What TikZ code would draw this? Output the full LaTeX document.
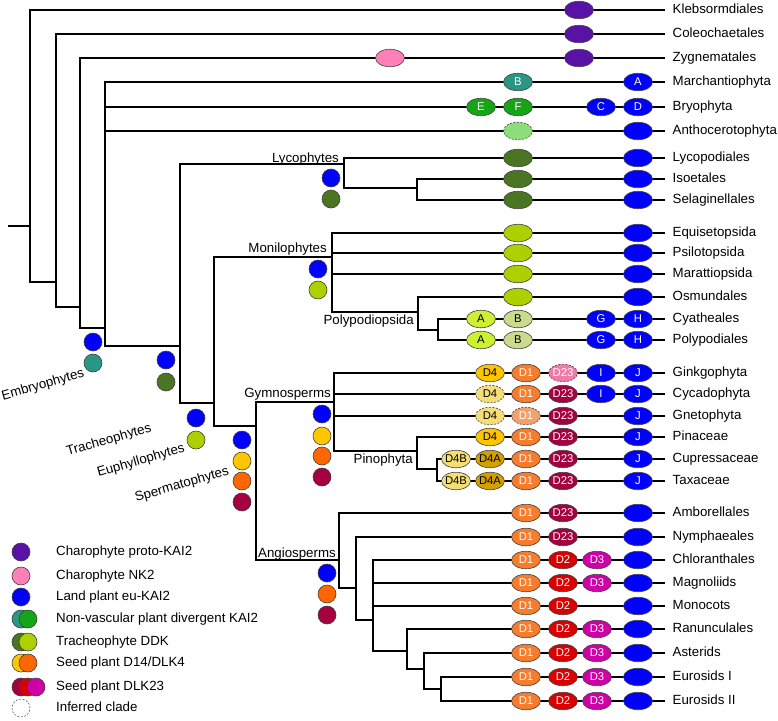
\documentclass[tikz,border=0pt]{standalone}
\usepackage{fontspec}
\setmainfont{Liberation Sans}
\usetikzlibrary{shapes.geometric}
\definecolor{proto}{RGB}{88,18,165}
\definecolor{nkpink}{RGB}{255,128,182}
\definecolor{ekai}{RGB}{0,0,255}
\definecolor{nvteal}{RGB}{42,150,132}
\definecolor{nvgreen}{RGB}{22,165,22}
\definecolor{ddkdark}{RGB}{74,118,36}
\definecolor{ddklite}{RGB}{172,208,0}
\definecolor{dgold}{RGB}{255,198,0}
\definecolor{dorange}{RGB}{255,102,0}
\definecolor{done}{RGB}{248,124,44}
\definecolor{dcrim}{RGB}{165,0,64}
\definecolor{dred}{RGB}{218,0,0}
\definecolor{dmag}{RGB}{208,0,168}
\definecolor{litA}{RGB}{205,240,50}
\definecolor{paleB}{RGB}{200,220,140}
\definecolor{antho}{RGB}{140,222,122}
\definecolor{paleD}{RGB}{245,222,118}
\definecolor{dfourA}{RGB}{212,160,0}
\definecolor{pinkD}{RGB}{242,122,170}
\definecolor{paleO}{RGB}{242,160,108}
\tikzset{br/.style={line width=1.4pt},
 lf/.style={anchor=west,inner xsep=7.5pt,inner ysep=0pt,text height=9.7pt,text depth=2.7pt,font=\fontsize{13.3}{15}\selectfont},
 ov/.style={draw=black!75,line width=0.6pt,ellipse,minimum width=29pt,minimum height=17.5pt,inner sep=0pt,text=white,font=\fontsize{11.3}{13}\selectfont},
 bk/.style={text=black},inf/.style={dash pattern=on 2pt off 1.5pt},bi/.style={bk,inf},
 cr/.style={draw=black!75,line width=0.6pt,circle,minimum size=18pt,inner sep=0pt},
 cl/.style={inner sep=0pt,font=\fontsize{13.3}{15}\selectfont},
 lg/.style={anchor=west,inner sep=0pt,text height=9.7pt,text depth=2.7pt,font=\fontsize{13.3}{15}\selectfont}}
\begin{document}
\begin{tikzpicture}[x=1pt,y=-1pt]
\useasboundingbox (0,0) rectangle (778,720);
% taxa
\foreach\n/\y/\t in {kl/10/Klebsormdiales,co/34/Coleochaetales,zy/58/Zygnematales,ma/82/Marchantiophyta,bry/107/Bryophyta,ant/131/Anthocerotophyta,
 lyc/158/Lycopodiales,iso/179/Isoetales,sel/200/Selaginellales,equ/233/Equisetopsida,psi/253/Psilotopsida,mar/274/Marattiopsida,osm/297/Osmundales,
 cya/319/Cyatheales,pol/340/Polypodiales,gin/373/Ginkgophyta,cyc/394/Cycadophyta,gne/416/Gnetophyta,pin/437/Pinaceae,cup/459/Cupressaceae,tax/481/Taxaceae,
 amb/513/Amborellales,nym/537/Nymphaeales,chl/560/Chloranthales,mag/583/Magnoliids,mon/606/Monocots,ran/629/Ranunculales,ast/653/Asterids,
 ea/677/Eurosids I,eb/701/Eurosids II}{\node[lf](\n) at (665,\y){\t};}
% inner nodes
\coordinate(r) at (8,226);\coordinate(n1) at (30,226);\coordinate(n2) at (56,282);\coordinate(n3) at (80,307);\coordinate(n4) at (105,328);
\coordinate(tr) at (180,346);\coordinate(ly) at (344,164);\coordinate(ly2) at (417,188);\coordinate(ep) at (214,403);
\coordinate(mo) at (332,257);\coordinate(po) at (418,312);\coordinate(po2) at (438,330);\coordinate(sp) at (256,426);
\coordinate(gy) at (334,402);\coordinate(pi) at (417,451);\coordinate(pi2) at (437,469);\coordinate(an) at (339,560);
\coordinate(a2) at (356,588);\coordinate(a3) at (373,620);\coordinate(a4) at (407,651);\coordinate(a5) at (424,669);\coordinate(a6) at (441,689);
\draw[br](r)--(n1);
\foreach\p/\c in {n1/kl,n1/n2,n2/co,n2/n3,n3/zy,n3/n4,n4/ma,n4/bry,n4/ant,n4/tr,tr/ly,tr/ep,ly/lyc,ly/ly2,ly2/iso,ly2/sel,ep/mo,ep/sp,
 mo/equ,mo/psi,mo/mar,mo/po,po/osm,po/po2,po2/cya,po2/pol,sp/gy,sp/an,gy/gin,gy/cyc,gy/gne,gy/pi,pi/pin,pi/pi2,pi2/cup,pi2/tax,
 an/amb,an/a2,a2/nym,a2/a3,a3/chl,a3/mag,a3/mon,a3/a4,a4/ran,a4/a5,a5/ast,a5/a6,a6/ea,a6/eb}{\draw[br](\p) |- (\c);}
% ovals
\foreach\y[count=\i] in {10,34,58}{\node[ov,fill=proto](pk\i) at (579,\y){};}
\node[ov,fill=nkpink](nk) at (390,58){};
\foreach\y[count=\i] in {131,158,179,200,233,253,274,297,513,537,560,583,606,629,653,677,701}{\node[ov,fill=ekai](ek\i) at (638,\y){};}
\foreach\x/\y/\c/\t/\s[count=\i] in {518/82/nvteal/B/,638/82/ekai/A/,481/107/nvgreen/E/,518/107/nvgreen/F/,601/107/ekai/C/,638/107/ekai/D/,
 518/131/antho//inf,518/158/ddkdark//,518/179/ddkdark//,518/200/ddkdark//,518/233/ddklite//,518/253/ddklite//,518/274/ddklite//,518/297/ddklite//,
 481/319/litA/A/bk,518/319/paleB/B/bk,601/319/ekai/G/,638/319/ekai/H/,481/340/litA/A/bk,518/340/paleB/B/bk,601/340/ekai/G/,638/340/ekai/H/,
 490/373/dgold/D4/bk,526/373/done/D1/,563/373/pinkD/D23/inf,601/373/ekai/I/,638/373/ekai/J/,
 490/394/paleD/D4/bi,526/394/done/D1/,563/394/dcrim/D23/,601/394/ekai/I/,638/394/ekai/J/,
 490/416/paleD/D4/bi,526/416/paleO/D1/inf,563/416/dcrim/D23/,638/416/ekai/J/,
 490/437/dgold/D4/bk,526/437/done/D1/,563/437/dcrim/D23/,638/437/ekai/J/,
 456/459/paleD/D4B/bk,490/459/dfourA/D4A/bk,526/459/done/D1/,563/459/dcrim/D23/,638/459/ekai/J/,
 456/481/paleD/D4B/bk,490/481/dfourA/D4A/bk,526/481/done/D1/,563/481/dcrim/D23/,638/481/ekai/J/}
 {\node[ov,fill=\c,\s](o\i) at (\x,\y){\makebox[0pt]{\t}};}
\foreach\y[count=\i] in {513,537,560,583,606,629,653,677,701}{\node[ov,fill=done](d1\i) at (526,\y){\makebox[0pt]{D1}};}
\foreach\y[count=\i] in {513,537}{\node[ov,fill=dcrim](dd\i) at (563,\y){\makebox[0pt]{D23}};}
\foreach\y[count=\i] in {560,583,606,629,653,677,701}{\node[ov,fill=dred](d2\i) at (563,\y){\makebox[0pt]{D2}};}
\foreach\y[count=\i] in {560,583,629,653,677,701}{\node[ov,fill=dmag](d3\i) at (597,\y){\makebox[0pt]{D3}};}
% clades
\foreach\x/\y/\c[count=\i] in {93/342/ekai,93/363/nvteal,166/360/ekai,166/382/ddkdark,196/418/ekai,196/440/ddklite,
 242/440/ekai,242/461/dgold,242/481/dorange,242/502/dcrim,331/178/ekai,331/199/ddkdark,318/269/ekai,318/290/ddklite,
 322/414/ekai,322/436/dgold,322/456/dorange,322/477/dcrim,327/573/ekai,327/594/dorange,327/615/dcrim}{\node[cr,fill=\c](c\i) at (\x,\y){};}
\node[cl,anchor=base east](lyl) at (339,162){Lycophytes};\node[cl,anchor=base east](mol) at (327,252){Monilophytes};
\node[cl,anchor=base east](pol) at (414,324){Polypodiopsida};\node[cl,anchor=base east](gyl) at (331,397){Gymnosperms};
\node[cl,anchor=base east](pil) at (413,463){Pinophyta};\node[cl,anchor=base east](anl) at (336,557){Angiosperms};
\node[cl,rotate=16](eml) at (43,385){Embryophytes};\node[cl,rotate=16](trl) at (109,440){Tracheophytes};
\node[cl,rotate=16](epl) at (141,461){Euphyllophytes};\node[cl,rotate=16](spl) at (182,485){Spermatophytes};
% legend
\node[cr,fill=proto](k1) at (21,552){};\node[lg](t1) at (56,552){Charophyte proto-KAI2};
\node[cr,fill=nkpink](k2) at (21,576){};\node[lg](t2) at (56,576){Charophyte NK2};
\node[cr,fill=ekai](k3) at (21,597){};\node[lg](t3) at (56,597){Land plant eu-KAI2};
\node[cr,fill=nvteal](k4) at (21,619){};\node[cr,fill=nvgreen](k4b) at (28,619){};\node[lg](t4) at (56,619){Non-vascular plant divergent KAI2};
\node[cr,fill=ddkdark](k5) at (21,642){};\node[cr,fill=ddklite](k5b) at (28,642){};\node[lg](t5) at (56,642){Tracheophyte DDK};
\node[cr,fill=dgold](k6) at (21,663){};\node[cr,fill=dorange](k6b) at (28,663){};\node[lg](t6) at (56,663){Seed plant D14/DLK4};
\node[cr,fill=dcrim](k7) at (21,687){};\node[cr,fill=dred](k7b) at (28,687){};\node[cr,fill=dmag](k7c) at (36,687){};\node[lg](t7) at (56,687){Seed plant DLK23};
\node[cr,draw=black!60,inf,fill=white](k8) at (21,708){};\node[lg](t8) at (56,708){Inferred clade};
\end{tikzpicture}
\end{document}
